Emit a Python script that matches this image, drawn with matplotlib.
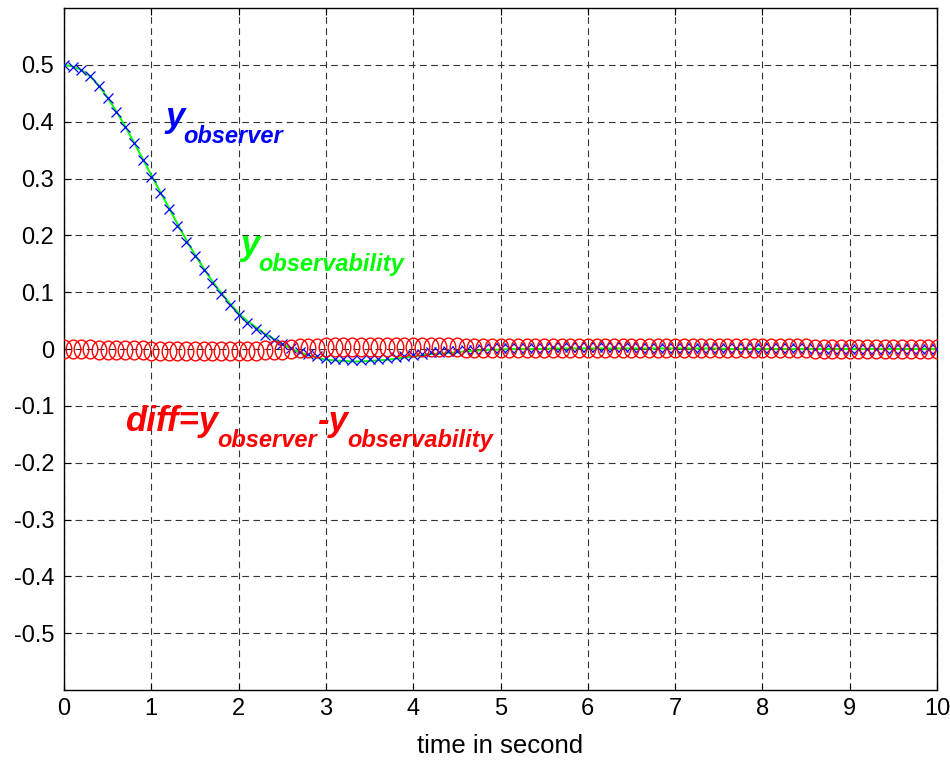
import numpy as np
import matplotlib
matplotlib.use("Agg")
import matplotlib.pyplot as plt
from matplotlib.path import Path
from matplotlib.transforms import Affine2D

# ---------------- data ----------------
t = [round(0.1 * i, 1) for i in range(101)]

y_observer = [
    0.500, 0.497, 0.491, 0.480, 0.462, 0.441, 0.417, 0.391, 0.363, 0.333,
    0.303, 0.274, 0.246, 0.217, 0.189, 0.163, 0.139, 0.116, 0.096, 0.077,
    0.060, 0.046, 0.035, 0.025, 0.016, 0.008, 0.001, -0.005, -0.009, -0.013,
    -0.016, -0.017, -0.018, -0.019, -0.019, -0.018, -0.017, -0.016, -0.014, -0.012,
    -0.010, -0.008, -0.006, -0.005, -0.004, -0.003, -0.002, -0.001, 0.000, 0.001,
    0.001, 0.002, 0.002, 0.002, 0.002, 0.002, 0.003, 0.003, 0.003, 0.003,
    0.003, 0.003, 0.003, 0.003, 0.003, 0.003, 0.002, 0.002, 0.002, 0.002,
    0.002, 0.002, 0.002, 0.002, 0.002, 0.002, 0.001, 0.001, 0.001, 0.001,
    0.001, 0.001, 0.001, 0.001, 0.001, 0.001, 0.000, 0.000, 0.000, 0.000,
    0.000, 0.000, 0.000, 0.000, 0.000, 0.000, 0.000, 0.000, 0.000, 0.000,
    0.000,
]

diff = [
    0.000, 0.000, 0.000, 0.000, -0.001, -0.001, -0.001, -0.001, -0.001, -0.002,
    -0.003, -0.003, -0.003, -0.003, -0.003, -0.003, -0.003, -0.003, -0.003, -0.003,
    -0.003, -0.003, -0.003, -0.002, -0.002, -0.001, 0.000, 0.001, 0.002, 0.002,
    0.003, 0.003, 0.003, 0.003, 0.003, 0.003, 0.003, 0.003, 0.003, 0.003,
    0.003, 0.003, 0.003, 0.003, 0.003, 0.003, 0.002, 0.002, 0.002, 0.002,
    0.002, 0.002, 0.002, 0.002, 0.002, 0.002, 0.002, 0.002, 0.002, 0.002,
    0.002, 0.002, 0.002, 0.002, 0.002, 0.002, 0.001, 0.001, 0.001, 0.001,
    0.001, 0.001, 0.001, 0.001, 0.001, 0.001, 0.001, 0.001, 0.001, 0.001,
    0.001, 0.001, 0.001, 0.001, 0.001, 0.001, 0.000, 0.000, 0.000, 0.000,
    0.000, 0.000, 0.000, 0.000, 0.000, 0.000, 0.000, 0.000, 0.000, 0.000,
    0.000,
]

y_observability = [
    0.500, 0.497, 0.491, 0.480, 0.463, 0.442, 0.418, 0.392, 0.364, 0.335,
    0.306, 0.277, 0.249, 0.220, 0.192, 0.166, 0.142, 0.119, 0.099, 0.080,
    0.063, 0.049, 0.038, 0.027, 0.018, 0.009, 0.001, -0.006, -0.011, -0.015,
    -0.019, -0.020, -0.021, -0.022, -0.022, -0.021, -0.020, -0.019, -0.017, -0.015,
    -0.013, -0.011, -0.009, -0.008, -0.007, -0.006, -0.004, -0.003, -0.002, -0.001,
    -0.001, 0.000, 0.000, 0.000, 0.000, 0.000, 0.001, 0.001, 0.001, 0.001,
    0.001, 0.001, 0.001, 0.001, 0.001, 0.001, 0.001, 0.001, 0.001, 0.001,
    0.001, 0.001, 0.001, 0.001, 0.001, 0.001, 0.000, 0.000, 0.000, 0.000,
    0.000, 0.000, 0.000, 0.000, 0.000, 0.000, 0.000, 0.000, 0.000, 0.000,
    0.000, 0.000, 0.000, 0.000, 0.000, 0.000, 0.000, 0.000, 0.000, 0.000,
    0.000,
]

xticks = [0, 1, 2, 3, 4, 5, 6, 7, 8, 9, 10]
yticks = [-0.5, -0.4, -0.3, -0.2, -0.1, 0, 0.1, 0.2, 0.3, 0.4, 0.5]
ytick_labels = ["-0.5", "-0.4", "-0.3", "-0.2", "-0.1", "0", "0.1", "0.2", "0.3", "0.4", "0.5"]

# ---------------- style ----------------
plt.rcParams["font.family"] = ["Liberation Sans", "DejaVu Sans"]

fig = plt.figure(figsize=(9.5, 7.63), dpi=100)
ax = fig.add_axes([64 / 950, 73 / 763, 873 / 950, 682 / 763])

# ellipse marker (MATLAB-like stretched circle)
ellipse = Path.unit_circle().transformed(Affine2D().scale(0.78, 1.0))

ax.plot(t, y_observability, color=(0, 1, 0), lw=1.4, zorder=3)
ax.plot(t, y_observer, linestyle="none", marker="x", color="blue",
        markersize=7.5, markeredgewidth=0.9, zorder=4)
ax.plot(t, diff, linestyle="none", marker=ellipse, markerfacecolor="none",
        markeredgecolor="red", markersize=13.5, markeredgewidth=1.0, zorder=5)

ax.set_xlim(0, 10)
ax.set_ylim(-0.6, 0.6)
ax.set_xticks(xticks)
ax.set_yticks(yticks)
ax.set_yticklabels(ytick_labels)
ax.tick_params(direction="in", length=5, width=0.8, labelsize=17,
               top=True, right=True, pad=7)
ax.tick_params(axis="x", pad=6)
ax.grid(True, color="#333333", linestyle=(0, (6, 4)), linewidth=0.8)
for s in ax.spines.values():
    s.set_linewidth(1.0)
    s.set_color("black")

ax.set_xlabel("time in second", fontsize=18.5, labelpad=10)

FONT_MAIN = 25
FONT_SUB = 17
SUB_DROP = -11.5  # points below the main baseline


def label_chain(x, y, pieces, color):
    """pieces: list of (text, is_subscript). Drawn left to right."""
    common = dict(color=color, fontstyle="italic", fontweight="bold",
                  va="baseline", ha="left", zorder=6,
                  annotation_clip=False)
    prev = None
    for txt, is_sub in pieces:
        size = FONT_SUB if is_sub else FONT_MAIN
        dy = SUB_DROP if is_sub else 0
        if prev is None:
            art = ax.annotate(txt, xy=(x, y), xycoords="data",
                              xytext=(0, dy), textcoords="offset points",
                              fontsize=size, **common)
        else:
            art = ax.annotate(txt, xy=(1, y), xycoords=(prev, "data"),
                              xytext=(-0.5, dy), textcoords="offset points",
                              fontsize=size, **common)
        prev = art


label_chain(1.157, 0.390, [("y", False), ("observer", True)], "blue")
label_chain(2.016, 0.165, [("y", False), ("observability", True)], (0, 1, 0))
label_chain(0.70, -0.144, [("diff=y", False), ("observer", True),
                           ("-y", False), ("observability", True)], "red")

fig.savefig("out.png", dpi=100, facecolor="white")
